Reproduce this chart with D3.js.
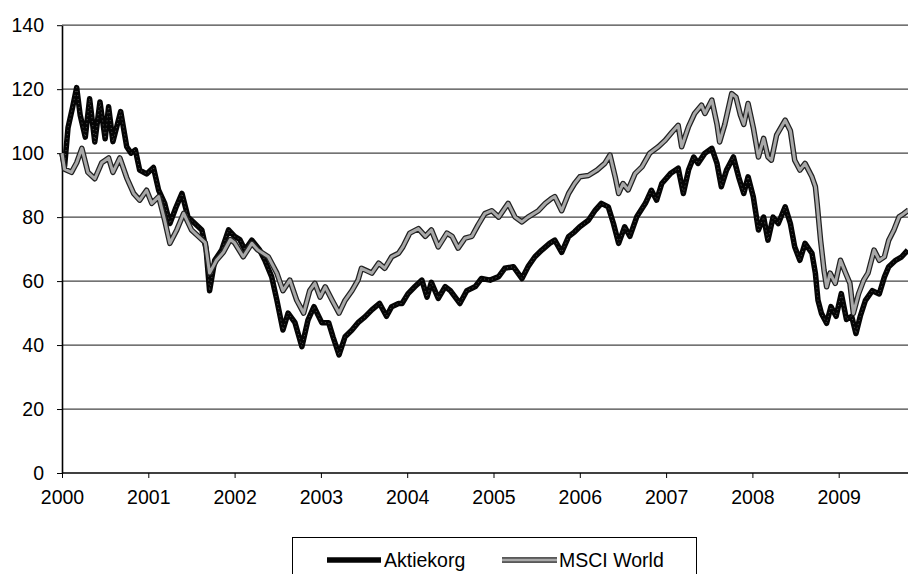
<!DOCTYPE html>
<html><head><meta charset="utf-8">
<script src="https://cdn.jsdelivr.net/npm/d3@7"></script>
<style>body{margin:0;background:#fff}svg{display:block}text{font-family:"Liberation Sans",Arial,sans-serif}</style>
</head><body>
<svg id="c" width="908" height="574"></svg>
<script>
const yTicks = [0, 20, 40, 60, 80, 100, 120, 140];
const xTicks = [2000, 2001, 2002, 2003, 2004, 2005, 2006, 2007, 2008, 2009];
const seriesNames = ["Aktiekorg", "MSCI World"];

const aktiekorg = [
[2000.00,100],[2000.03,96],[2000.07,108],[2000.12,114],[2000.17,120.5],[2000.21,112],[2000.27,105],
[2000.32,117],[2000.38,103.5],[2000.44,116],[2000.50,104.5],[2000.54,114.5],[2000.59,103.6],[2000.68,113],
[2000.75,102],[2000.80,100],[2000.85,101],[2000.90,94.7],[2000.98,93.5],[2001.06,95.5],[2001.12,88.4],
[2001.19,84.3],[2001.25,78],[2001.32,83],[2001.39,87.4],[2001.46,80],[2001.54,78],[2001.62,76],
[2001.67,70],[2001.71,57],[2001.77,66.5],[2001.85,69.7],[2001.93,76],[2002.00,74],[2002.06,73],
[2002.12,69.7],[2002.20,72.8],[2002.29,69.7],[2002.35,66.5],[2002.43,61.3],[2002.49,54],[2002.56,44.7],
[2002.62,50],[2002.70,47],[2002.78,39.5],[2002.85,47.8],[2002.92,52],[2003.01,47],[2003.09,47],
[2003.14,42.6],[2003.21,36.9],[2003.28,42.6],[2003.36,44.7],[2003.43,47],[2003.51,48.8],[2003.59,51],
[2003.68,53],[2003.76,49],[2003.82,52],[2003.90,53],[2003.94,53],[2004.01,56.1],[2004.09,58.3],
[2004.17,60.3],[2004.23,55],[2004.28,59.6],[2004.36,54.6],[2004.44,58.3],[2004.50,57],[2004.61,53],
[2004.69,57],[2004.79,58.3],[2004.86,60.8],[2004.96,60.3],[2005.06,61.4],[2005.13,64],[2005.23,64.5],
[2005.33,60.8],[2005.40,64.5],[2005.48,67.6],[2005.56,69.7],[2005.65,71.8],[2005.71,72.8],[2005.79,69],
[2005.87,73.9],[2005.94,75.4],[2006.00,77],[2006.10,79],[2006.18,82.2],[2006.25,84.3],[2006.33,83.2],
[2006.39,78],[2006.45,71.8],[2006.52,77],[2006.58,74],[2006.66,80.1],[2006.76,84.3],[2006.83,88.4],
[2006.89,85.3],[2006.95,90.5],[2007.05,93.6],[2007.14,95.3],[2007.20,87.4],[2007.26,94.7],[2007.32,98.8],
[2007.37,96.8],[2007.45,100],[2007.53,101.5],[2007.59,96.8],[2007.64,89.5],[2007.70,94.7],[2007.78,98.8],
[2007.84,92.6],[2007.90,87.4],[2007.95,92.6],[2008.01,86.4],[2008.07,76],[2008.13,80],[2008.18,72.8],
[2008.24,80],[2008.30,78],[2008.38,83.2],[2008.44,78],[2008.49,70.7],[2008.55,66.5],[2008.61,71.8],
[2008.69,68.7],[2008.73,62.4],[2008.76,54],[2008.80,49.9],[2008.86,46.8],[2008.91,52],[2008.97,49],
[2009.03,56.1],[2009.09,48],[2009.15,49],[2009.20,43.6],[2009.25,49],[2009.31,54],[2009.39,57],
[2009.47,56],[2009.53,61.3],[2009.58,64.5],[2009.66,66.5],[2009.73,67.6],[2009.80,69.7]
];

const msciWorld = [
[2000.00,100],[2000.03,95],[2000.11,94],[2000.17,97],[2000.23,101.5],[2000.30,94],[2000.38,92],
[2000.46,97],[2000.54,98.5],[2000.59,94],[2000.67,98.5],[2000.75,92.3],[2000.83,87.4],[2000.90,85.3],
[2000.98,88.4],[2001.04,84.3],[2001.12,86.4],[2001.19,79],[2001.25,71.8],[2001.33,76],[2001.41,81.2],
[2001.50,76],[2001.58,74],[2001.66,72],[2001.71,62.5],[2001.79,66.5],[2001.87,69],[2001.95,73],
[2002.00,72],[2002.10,67.6],[2002.20,71.8],[2002.27,69.7],[2002.39,67.6],[2002.49,62.5],[2002.56,57],
[2002.64,60.3],[2002.72,54],[2002.80,50],[2002.87,57],[2002.93,59.3],[2002.99,55],[2003.05,58.2],
[2003.13,54],[2003.21,50],[2003.28,54],[2003.36,57],[2003.43,60.3],[2003.47,64],[2003.59,62.5],
[2003.67,65.6],[2003.74,64],[2003.82,67.6],[2003.90,68.7],[2003.95,70.7],[2004.03,75],[2004.13,76.4],
[2004.21,74],[2004.28,76],[2004.36,70.7],[2004.46,75],[2004.52,74],[2004.59,70.3],[2004.67,73.4],
[2004.75,74],[2004.82,77.5],[2004.90,81.1],[2004.98,82],[2005.06,80],[2005.17,84.3],[2005.25,80],
[2005.33,78.5],[2005.40,80],[2005.52,82],[2005.60,84.3],[2005.67,85.8],[2005.71,86.4],[2005.79,82],
[2005.87,87.4],[2005.94,90.5],[2006.00,92.6],[2006.10,93],[2006.20,94.7],[2006.29,96.8],[2006.35,99.4],
[2006.41,92.6],[2006.45,87.4],[2006.50,90.5],[2006.56,88.5],[2006.64,93.6],[2006.72,95.7],[2006.81,100],
[2006.91,102],[2006.99,104],[2007.07,106.6],[2007.14,108.7],[2007.18,102],[2007.26,108.3],[2007.33,112.4],
[2007.41,115],[2007.45,112.4],[2007.53,116.6],[2007.59,109],[2007.62,103.5],[2007.68,109],[2007.76,118.6],
[2007.81,117.5],[2007.86,112],[2007.90,109],[2007.95,115.5],[2008.01,108],[2008.07,98.8],[2008.13,104.6],
[2008.18,98.8],[2008.22,97.8],[2008.28,105.6],[2008.38,110.3],[2008.44,107],[2008.49,97.8],[2008.55,94.7],
[2008.61,96.8],[2008.69,92.6],[2008.73,89.5],[2008.75,84.3],[2008.79,72.8],[2008.83,63.4],[2008.86,58.2],
[2008.90,62.5],[2008.96,59.3],[2009.02,66.5],[2009.08,62.5],[2009.13,59.3],[2009.17,49.9],[2009.23,56],
[2009.29,60.3],[2009.34,62.5],[2009.41,69.7],[2009.47,66.5],[2009.53,67.6],[2009.58,72.8],[2009.64,76],
[2009.70,80.1],[2009.75,81],[2009.81,82.2]
];

const svg = d3.select("#c");
const x = d3.scaleLinear().domain([2000, 2009.8]).range([62, 62 + 86.3 * 9.8]);
const y = d3.scaleLinear().domain([0, 140]).range([473, 25.2]);

// gridlines
svg.append("g").selectAll("line").data(yTicks.filter(d => d > 0)).join("line")
  .attr("x1", 62).attr("x2", 908).attr("y1", d => y(d)).attr("y2", d => y(d))
  .attr("stroke", "#444").attr("stroke-width", 1.3);

// y axis
const ya = svg.append("g").attr("transform", "translate(62,0)")
  .call(d3.axisLeft(y).tickValues(yTicks).tickSize(5).tickSizeOuter(0).tickPadding(13));
ya.select(".domain").attr("stroke", "#000").attr("stroke-width", 1.6);
ya.selectAll(".tick line").attr("stroke", "#000");
ya.selectAll("text").attr("font-size", 19.5).attr("fill", "#000")
  .style("font-family", '"Liberation Sans", Arial, sans-serif');

// x axis
const xa = svg.append("g").attr("transform", "translate(0,473)")
  .call(d3.axisBottom(x).tickValues(xTicks).tickFormat(d3.format("d")).tickSize(5).tickSizeOuter(0).tickPadding(12));
xa.select(".domain").attr("d", "M62,0H908").attr("stroke", "#000").attr("stroke-width", 1.6);
xa.selectAll(".tick line").attr("stroke", "#000");
xa.selectAll("text").attr("font-size", 19.5).attr("fill", "#000")
  .style("font-family", '"Liberation Sans", Arial, sans-serif');

const line = d3.line().x(d => x(d[0])).y(d => y(d[1]));

svg.append("path").datum(aktiekorg).attr("d", line).attr("fill", "none")
  .attr("stroke", "#050505").attr("stroke-width", 5.5).attr("stroke-linejoin", "round");
svg.append("path").datum(aktiekorg).attr("d", line).attr("fill", "none")
  .attr("stroke", "#666").attr("stroke-width", 0.8).attr("stroke-dasharray", "1,3");

svg.append("path").datum(msciWorld).attr("d", line).attr("fill", "none")
  .attr("stroke", "#222").attr("stroke-width", 5.5).attr("stroke-linejoin", "round");
svg.append("path").datum(msciWorld).attr("d", line).attr("fill", "none")
  .attr("stroke", "#a8a8a8").attr("stroke-width", 3).attr("stroke-linejoin", "round");

// legend
const lg = svg.append("g");
lg.append("rect").attr("x", 292.5).attr("y", 537.5).attr("width", 404).attr("height", 60)
  .attr("fill", "#fff").attr("stroke", "#000").attr("stroke-width", 1);
const items = [
  {name: seriesNames[0], x1: 327, x2: 381, tx: 384, outer: "#050505", inner: null},
  {name: seriesNames[1], x1: 502, x2: 557, tx: 559, outer: "#222", inner: "#a8a8a8"}
];
items.forEach(it => {
  lg.append("line").attr("x1", it.x1).attr("x2", it.x2).attr("y1", 560).attr("y2", 560)
    .attr("stroke", it.outer).attr("stroke-width", 5.5);
  if (it.inner) lg.append("line").attr("x1", it.x1).attr("x2", it.x2).attr("y1", 560).attr("y2", 560)
    .attr("stroke", it.inner).attr("stroke-width", 3);
  lg.append("text").attr("x", it.tx).attr("y", 567).attr("font-size", 19.5).attr("fill", "#000").text(it.name);
});
</script>
</body></html>
